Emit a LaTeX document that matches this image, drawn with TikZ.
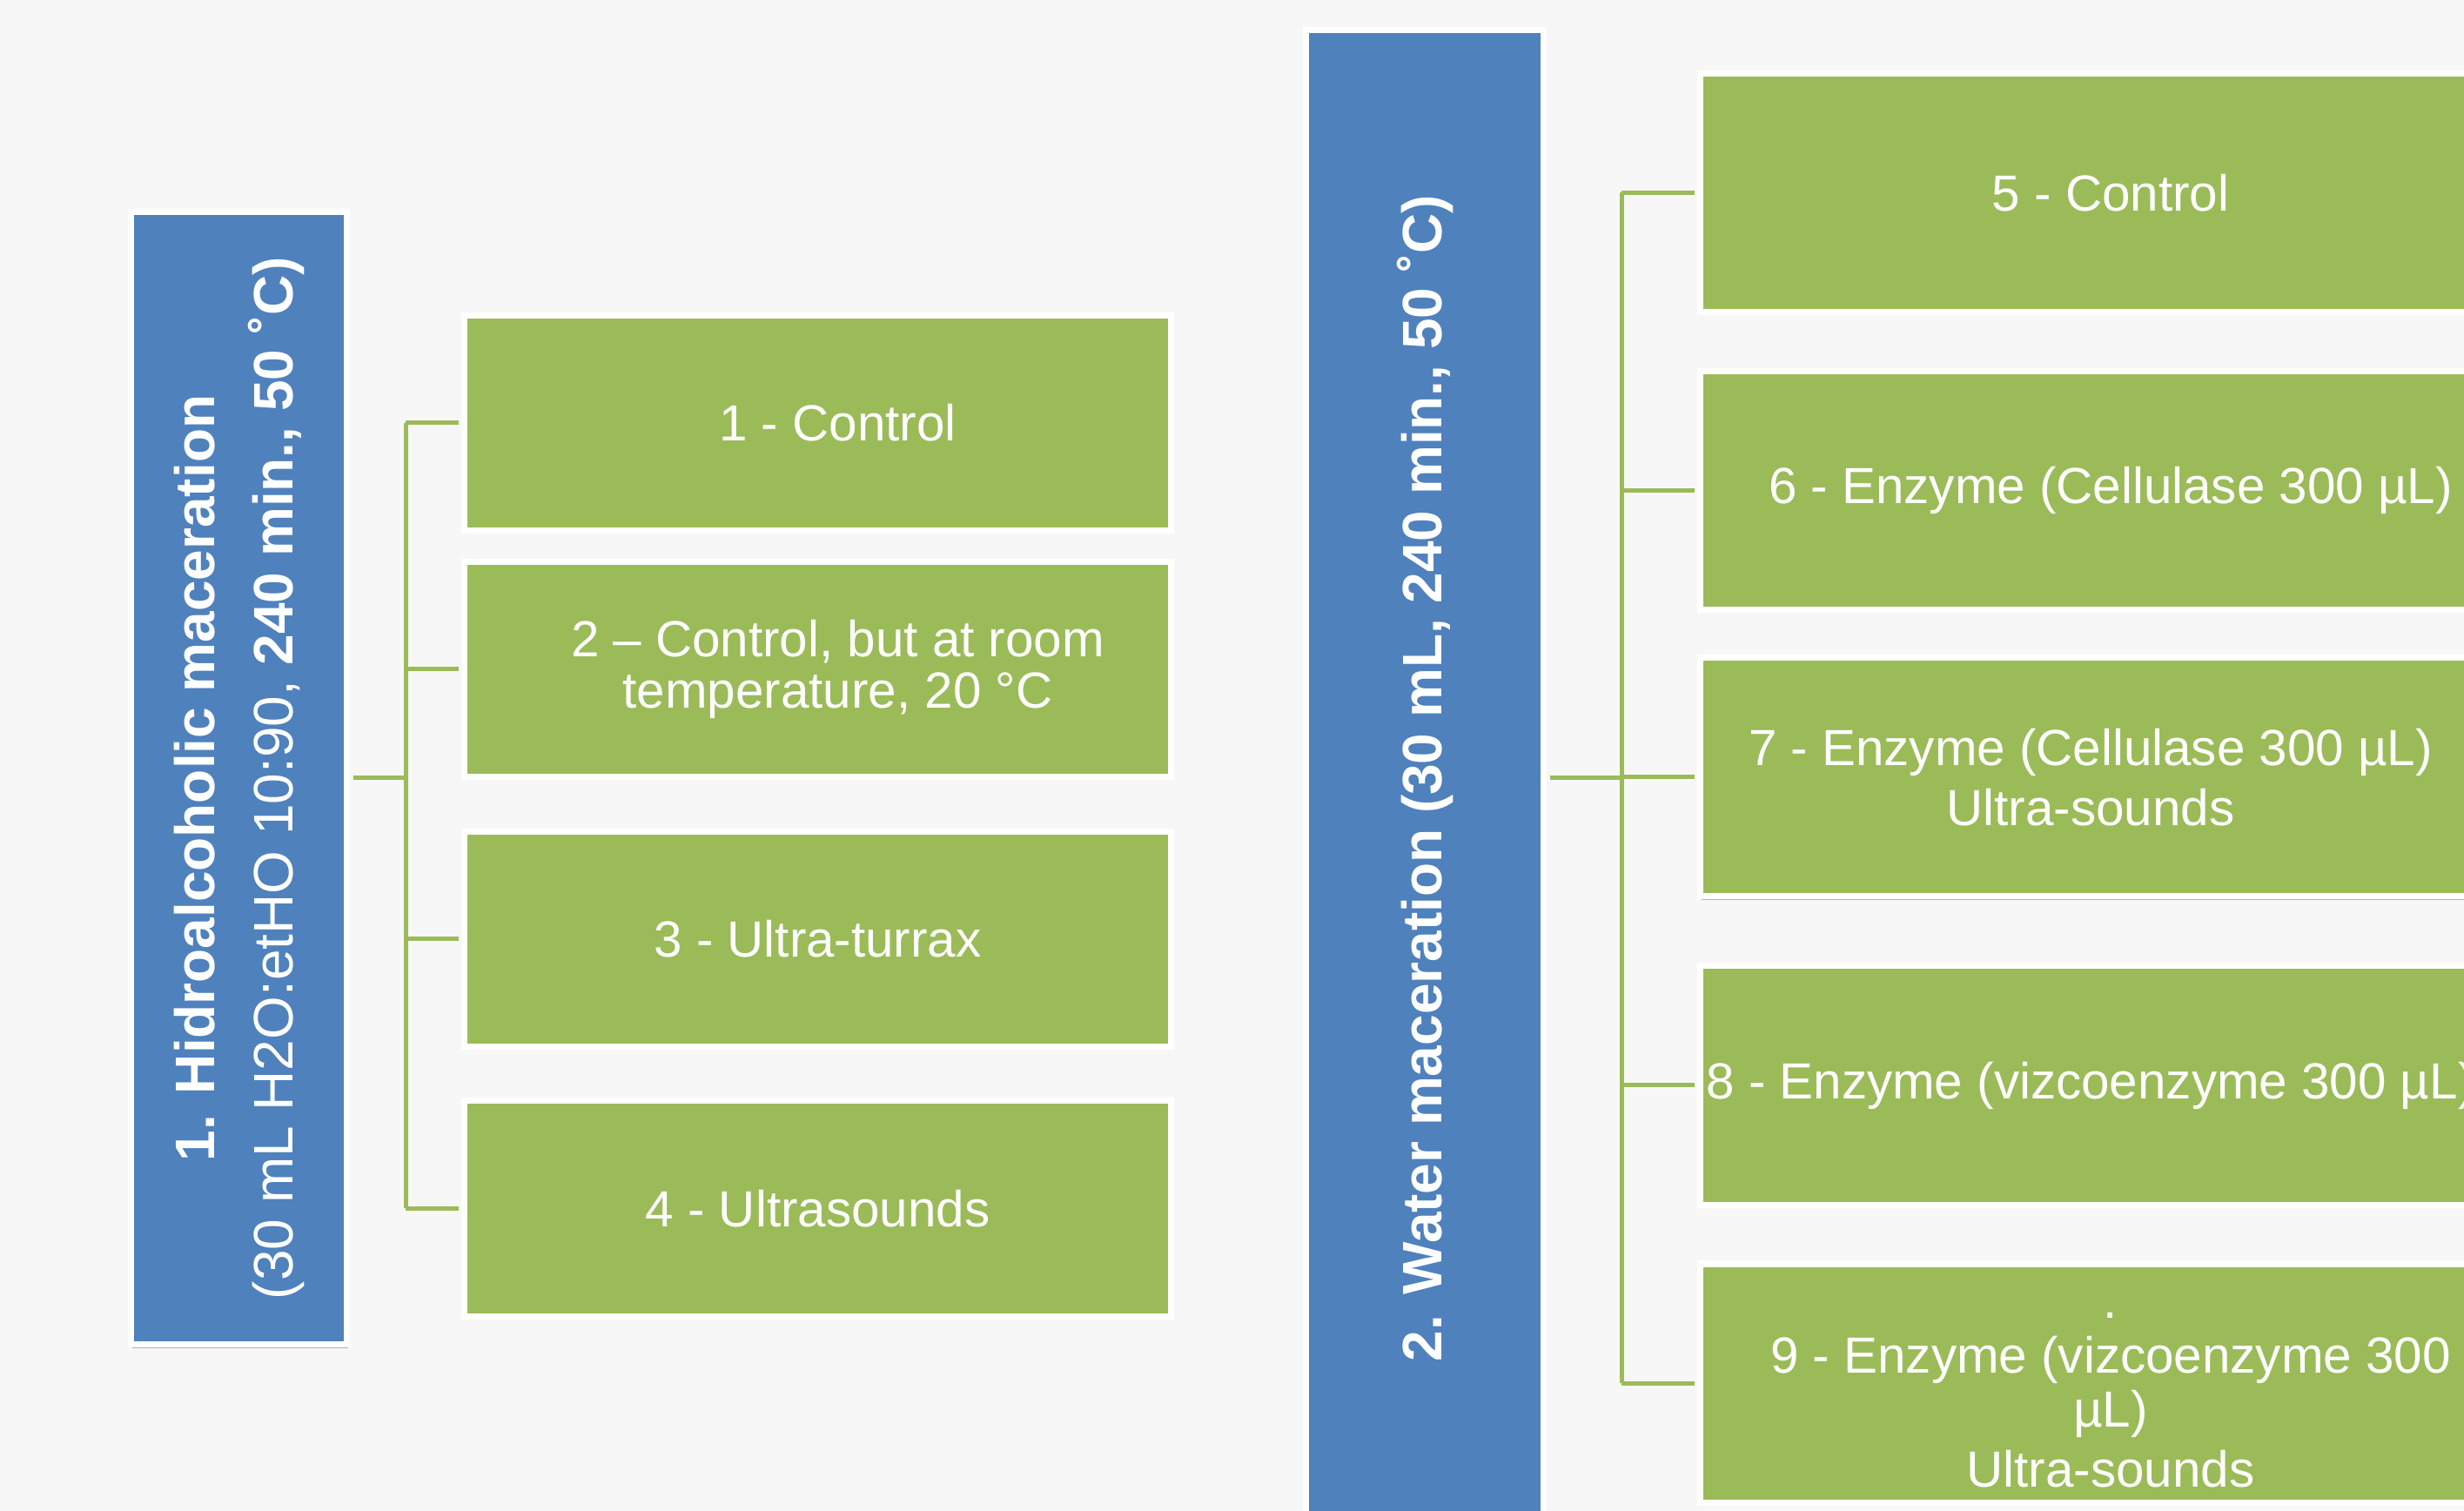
\documentclass[tikz,border=0pt]{standalone}
\usepackage{fontspec}
\setmainfont{Liberation Sans}
\usetikzlibrary{shadows}
\definecolor{bg}{HTML}{F7F7F7}
\definecolor{blu}{HTML}{4F81BD}
\definecolor{grn}{HTML}{9BBB59}
\begin{document}
\begin{tikzpicture}[every node/.style={text=white},
  boxshadow/.style={drop shadow={shadow xshift=0.01cm,shadow yshift=-0.04cm,opacity=0.4,fill=black!70}},
  head/.style={fill=blu,draw=white,line width=0.07cm,rotate=90,align=center,boxshadow,font=\fontsize{18.2}{25.6}\selectfont},
  leaf/.style={fill=grn,draw=white,line width=0.07cm,boxshadow},
  leaftext/.style={align=center,font=\fontsize{16.6}{19.5}\selectfont},
  conn/.style={draw=grn,line width=0.05cm}]
  \useasboundingbox (0,0) rectangle (28.31,-17.36);
  \clip (0,0) rectangle (28.31,-17.36);
  \fill[bg] (0,0) rectangle (28.31,-17.36);
  % 1. hydroalcoholic (rotated: .south is the right side)
  \node[head,minimum width=13.01cm,minimum height=2.48cm] (g1) at (2.745,-8.94)
    {{\bfseries 1. Hidroalcoholic maceration}\\(30 mL H2O:etHO 10:90, {\bfseries 240 min., 50 ˚C)}};
  \coordinate (j1) at (4.66,-8.94);
  \foreach \n/\y/\dx/\t in {1/4.86/0.23/{1 - Control},
      2/7.69/0.23/{2 – Control, but at room\\[-2.5pt]temperature, 20 °C},
      3/10.79/0/{3 - Ultra-turrax},
      4/13.885/0/{4 - Ultrasounds}} {
    \node[leaf,minimum width=8.12cm,minimum height=2.47cm] (a\n) at (9.395,-\y) {};
    \node[leaftext] (t\n) at ([xshift=\dx cm]a\n) {\t};
    \draw[conn,shorten >=0.035cm] (j1 |- a\n.west) -- (a\n.west);
  }
  \draw[conn] (j1 |- a1.west) -- (j1 |- a4.west);
  \draw[conn,shorten <=0.035cm] (g1.south) -- (j1);
  % 2. water
  \node[head,minimum width=17.19cm,minimum height=2.73cm] (g2) at (16.37,-8.94)
    {\bfseries 2. Water maceration (30 mL, 240 min., 50 ˚C)};
  \coordinate (j2) at (18.63,-8.94);
  \foreach \n/\y/\dx/\dy/\t in {5/2.215/0.23/0/{5 - Control},
      6/5.635/0.23/0/{6 - Enzyme (Cellulase 300 µL)},
      7/8.93/0/0/{7 - Enzyme (Cellulase 300 µL)\\Ultra-sounds},
      8/12.47/0/0/{8 - Enzyme (vizcoenzyme 300 µL)},
      9/15.89/0.23/-0.2/{.\\[-1.8pt]9 - Enzyme (vizcoenzyme 300\\[-1.8pt]µL)\\[0.3pt]Ultra-sounds}} {
    \node[leaf,minimum width=8.97cm,minimum height=2.74cm] (b\n) at (24.02,-\y) {};
    \node[leaftext] (u\n) at ([xshift=\dx cm,yshift=\dy cm]b\n) {\t};
    \draw[conn,shorten >=0.035cm] (j2 |- b\n.west) -- (b\n.west);
  }
  \draw[conn] (j2 |- b5.west) -- (j2 |- b9.west);
  \draw[conn,shorten <=0.035cm] (g2.south) -- (j2);
\end{tikzpicture}
\end{document}
